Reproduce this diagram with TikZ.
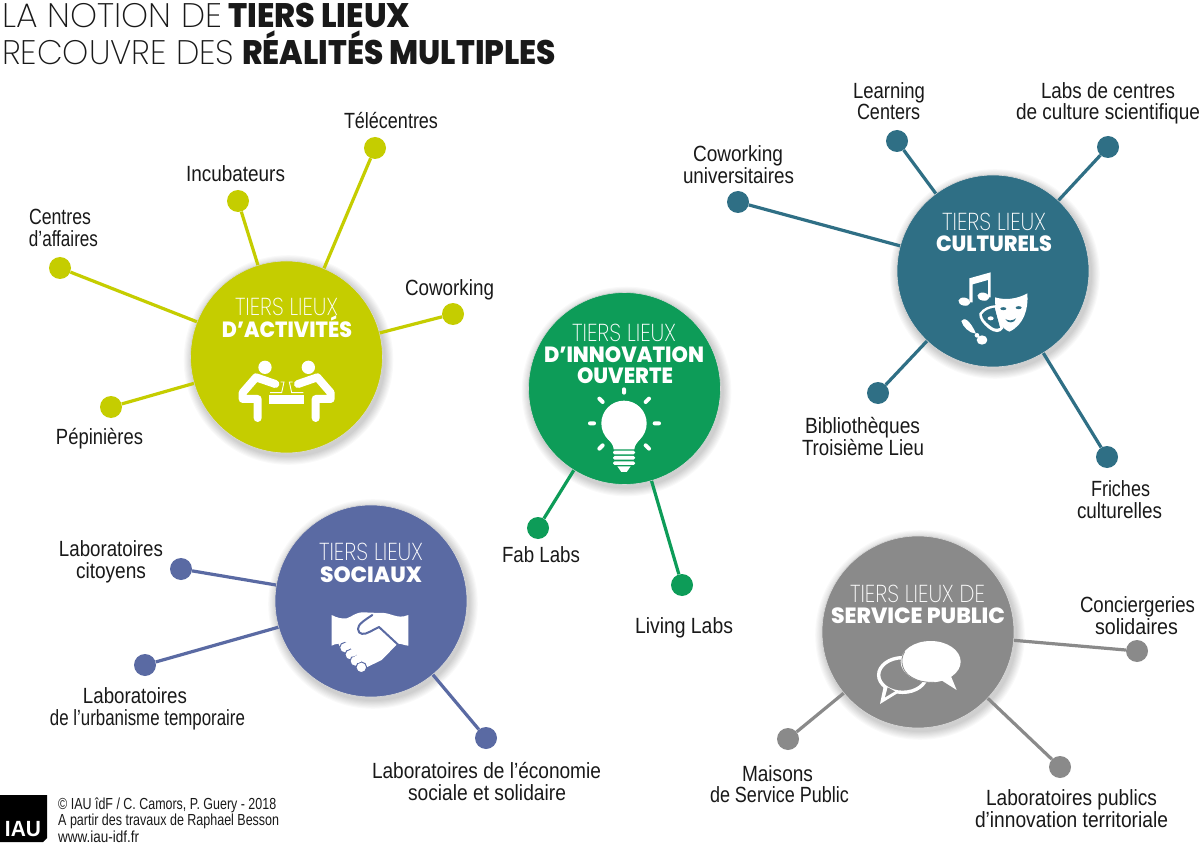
\documentclass[tikz,border=0pt]{standalone}
\usepackage{graphicx}
\usepackage{fontspec}
\setmainfont{Liberation Sans}
\newfontfamily\fthin{Poppins ExtraLight}
\newfontfamily\fbold{Poppins ExtraBold}
\definecolor{cact}{RGB}{197,205,0}
\definecolor{cinn}{RGB}{13,156,88}
\definecolor{ccul}{RGB}{47,111,133}
\definecolor{csoc}{RGB}{90,106,163}
\definecolor{cser}{RGB}{138,138,138}
\definecolor{ink}{RGB}{25,25,25}
\tikzset{
  hub/.style={circle,fill=#1,minimum size=192pt,inner sep=0pt,draw=white!85!black,line width=.6pt},
  pt/.style={circle,fill=#1,minimum size=22pt,inner sep=0pt},
  link/.style={draw=#1,line width=3.2pt},
  lab/.style={anchor=base,inner sep=0pt,text=ink,font=\fontsize{22}{22}\selectfont},
  thintxt/.style={anchor=base,inner sep=0pt,text=white,font=\fthin\fontsize{24.5}{24.5}\selectfont},
  boldtxt/.style={anchor=base,inner sep=0pt,text=white,font=\fbold\fontsize{22}{22}\selectfont},
  ttl/.style={anchor=base west,inner sep=0pt,text=ink,font=\fontsize{34}{34}\selectfont},
  foot/.style={anchor=base west,inner sep=0pt,text=ink,font=\fontsize{16}{16}\selectfont},
}
\newcommand{\fitw}[2]{\resizebox{#1pt}{\height}{#2}}
\newcommand{\halo}[2]{\foreach \k in {1,...,8}{\fill[black,opacity=.022] (#1+2,#2+3) circle (96+\k*1.1);}}
\begin{document}
\begin{tikzpicture}[x=1pt,y=-1pt]
\useasboundingbox (0,0) rectangle (1200,853);
\fill[white] (0,0) rectangle (1200,853);
% title
\node[ttl] (t1a) at (2,28) {\fthin\fitw{220}{LA NOTION DE}};
\node[ttl] (t1b) at (228,28) {\fbold\fitw{182}{TIERS LIEUX}};
\node[ttl] (t2a) at (2,65) {\fthin\fitw{232}{RECOUVRE DES}};
\node[ttl] (t2b) at (242,65) {\fbold\fitw{314}{RÉALITÉS MULTIPLES}};
% halos
\halo{286.5}{357}\halo{624.5}{388.5}\halo{993}{271}\halo{371}{601}\halo{918}{632}
% hubs
\node[hub=cact] (act) at (286.5,357) {};
\node[hub=cinn] (inn) at (624.5,388.5) {};
\node[hub=ccul] (cul) at (993,271) {};
\node[hub=csoc] (soc) at (371,601) {};
\node[hub=cser] (ser) at (918,632) {};
% dots
\node[pt=cact] (a1) at (60,268) {};
\node[pt=cact] (a2) at (238,201) {};
\node[pt=cact] (a3) at (375,148) {};
\node[pt=cact] (a4) at (453,314) {};
\node[pt=cact] (a5) at (111,407) {};
\node[pt=ccul] (c1) at (738,202) {};
\node[pt=ccul] (c2) at (897,141) {};
\node[pt=ccul] (c3) at (1108,147) {};
\node[pt=ccul] (c4) at (878,393) {};
\node[pt=ccul] (c5) at (1107,457) {};
\node[pt=cinn] (i1) at (538,528) {};
\node[pt=cinn] (i2) at (682,585) {};
\node[pt=csoc] (s1) at (181,569) {};
\node[pt=csoc] (s2) at (145,665) {};
\node[pt=csoc] (s3) at (486,738) {};
\node[pt=cser] (v1) at (1137,651) {};
\node[pt=cser] (v2) at (788,739) {};
\node[pt=cser] (v3) at (1060,767) {};
% connectors
\foreach \d in {a1,a2,a3,a4,a5} \draw[link=cact] (\d) -- (act);
\foreach \d in {c1,c2,c3,c4,c5} \draw[link=ccul] (\d) -- (cul);
\foreach \d in {i1,i2} \draw[link=cinn] (\d) -- (inn);
\foreach \d in {s1,s2,s3} \draw[link=csoc] (\d) -- (soc);
\foreach \d in {v1,v2,v3} \draw[link=cser] (\d) -- (ser);
% hub titles
\node[thintxt] (ta1) at (286.5,315) {\fitw{103}{TIERS LIEUX}};
\node[boldtxt] (ta2) at (287,337) {\fitw{130}{D’ACTIVITÉS}};
\node[thintxt] (ti1) at (624,341) {\fitw{104}{TIERS LIEUX}};
\node[boldtxt] (ti2) at (624,362) {\fitw{160}{D’INNOVATION}};
\node[boldtxt] (ti3) at (625,383) {\fitw{96}{OUVERTE}};
\node[thintxt] (tc1) at (994,231) {\fitw{104}{TIERS LIEUX}};
\node[boldtxt] (tc2) at (994,252) {\fitw{116}{CULTURELS}};
\node[thintxt] (ts1) at (371,560) {\fitw{104}{TIERS LIEUX}};
\node[boldtxt] (ts2) at (371,582) {\fitw{102}{SOCIAUX}};
\node[thintxt] (tv1) at (917.5,602) {\fitw{135}{TIERS LIEUX DE}};
\node[boldtxt] (tv2) at (918,623) {\fitw{174}{SERVICE PUBLIC}};
% labels
\node[lab] (l1) at (391,129) {\fitw{94}{Télécentres}};
\node[lab] (l2) at (235.5,182) {\fitw{99}{Incubateurs}};
\node[lab] (l3) at (60,225) {\fitw{62}{Centres}};
\node[lab] (l4) at (63.5,247) {\fitw{69}{d’affaires}};
\node[lab] (l5) at (449.5,295) {\fitw{89}{Coworking}};
\node[lab] (l6) at (99.5,444) {\fitw{87}{Pépinières}};
\node[lab] (l7) at (738,162) {\fitw{90}{Coworking}};
\node[lab] (l8) at (738.5,184) {\fitw{111}{universitaires}};
\node[lab] (l9) at (889,99) {\fitw{72}{Learning}};
\node[lab] (l10) at (888.5,120) {\fitw{63}{Centers}};
\node[lab] (l11) at (1108,99) {\fitw{134}{Labs de centres}};
\node[lab] (l12) at (1108,120) {\fitw{184}{de culture scientifique}};
\node[lab] (l13) at (862.5,433) {\fitw{115}{Bibliothèques}};
\node[lab] (l14) at (863,455) {\fitw{122}{Troisième Lieu}};
\node[lab] (l15) at (1120.5,496) {\fitw{59}{Friches}};
\node[lab] (l16) at (1119.5,518) {\fitw{85}{culturelles}};
\node[lab] (l17) at (541,562) {\fitw{78}{Fab Labs}};
\node[lab] (l18) at (684,633) {\fitw{98}{Living Labs}};
\node[lab] (l19) at (111,556) {\fitw{104}{Laboratoires}};
\node[lab] (l20) at (111,578) {\fitw{70}{citoyens}};
\node[lab] (l21) at (135,703) {\fitw{104}{Laboratoires}};
\node[lab] (l22) at (147.5,725) {\fitw{195}{de l’urbanisme temporaire}};
\node[lab] (l23) at (486.5,778) {\fitw{229}{Laboratoires de l’économie}};
\node[lab] (l24) at (487,800) {\fitw{158}{sociale et solidaire}};
\node[lab] (l25) at (1137.5,612) {\fitw{115}{Conciergeries}};
\node[lab] (l26) at (1136.5,634) {\fitw{83}{solidaires}};
\node[lab] (l27) at (777.5,781) {\fitw{71}{Maisons}};
\node[lab] (l28) at (779.5,802) {\fitw{139}{de Service Public}};
\node[lab] (l29) at (1071.5,805) {\fitw{171}{Laboratoires publics}};
\node[lab] (l30) at (1071.5,827) {\fitw{193}{d’innovation territoriale}};
% footer
\fill[black] (0,795) -- (47,795) -- (47,838) -- (43,842) -- (0,842) -- cycle;
\node[anchor=base,inner sep=0pt,text=white,font=\bfseries\fontsize{22}{22}\selectfont] (iau) at (23,836) {\fitw{36}{IAU}};
\node[foot] (f1) at (58,809) {\fitw{218}{© IAU îdF / C. Camors, P. Guery - 2018}};
\node[foot] (f2) at (58,825.5) {\fitw{221}{A partir des travaux de Raphael Besson}};
\node[foot] (f3) at (58,842) {\fitw{81}{www.iau-idf.fr}};
% icon: people at table
\begin{scope}[shift={(170,260)},scale=1/3,white]
\fill (285,322) circle (20); \fill (415,322) circle (20);
\fill (297,405) rectangle (403,432);
\draw[line width=8pt,line cap=round,line join=round] (316,372) -- (258,352) -- (218,398) -- (218,417) -- (263,417) -- (263,474);
\draw[line width=8pt,line cap=round,line join=round] (384,372) -- (442,352) -- (482,398) -- (482,417) -- (437,417) -- (437,474);
\draw[line width=.9pt] (300,398) -- (335,398) -- (342,366) -- (332,366);
\draw[line width=.9pt] (400,398) -- (365,398) -- (358,366) -- (368,366);
\end{scope}
% icon: bulb
\begin{scope}[shift={(510,290)},scale=1/3,white]
\fill (342,400) circle (68);
\fill (292,445) .. controls (305,460) and (310,465) .. (311,478) -- (373,478) .. controls (374,465) and (380,460) .. (392,445) -- cycle;
\foreach \yy in {482,498,514} \fill[rounded corners=1.5pt] (309,\yy) rectangle (375,\yy+11);
\fill (322,529) -- (362,529) -- (350,546) -- (334,546) -- cycle;
\draw[line width=4pt,line cap=round] (342,298) -- (342,308) (240,400) -- (252,400) (434,400) -- (447,400)
  (268,326) -- (278,336) (417,326) -- (407,336) (268,476) -- (278,466) (417,476) -- (407,466);
\end{scope}
% icon: music, masks, brush
\begin{scope}[shift={(950,265)},scale=1/3,white]
\fill[rotate around={-12:(43,110)}] (43,110) ellipse (18 and 12);
\fill[rotate around={-12:(100,95)}] (100,95) ellipse (18 and 12);
\fill (58,40) -- (122,22) -- (122,97) -- (114,97) -- (114,45) -- (68,58) -- (68,112) -- (58,112) -- cycle;
% small mask
\fill (88,145) .. controls (100,128) and (118,122) .. (140,120) -- (160,190) .. controls (150,205) and (135,205) .. (115,190) .. controls (100,178) and (85,160) .. (88,145) -- cycle;
\fill[ccul] (96,148) .. controls (105,136) and (118,130) .. (134,128) -- (150,188) .. controls (140,195) and (130,190) .. (118,180) .. controls (105,170) and (95,158) .. (96,148) -- cycle;
\fill (122,160) ellipse (9 and 6);
% big mask
\fill (135,97) .. controls (165,106) and (200,103) .. (232,85) .. controls (236,130) and (222,180) .. (178,200) .. controls (150,190) and (135,150) .. (135,97) -- cycle;
\fill[ccul] (160,131) ellipse (9 and 4.5) (206,128) ellipse (9 and 4.5);
\fill[ccul] (166,162) .. controls (176,168) and (186,168) .. (198,160) .. controls (194,176) and (172,176) .. (166,162) -- cycle;
% brush
\fill (34,168) .. controls (42,155) and (60,165) .. (78,206) .. controls (58,205) and (38,185) .. (34,168) -- cycle;
\fill (81,211) circle (7);
\fill (96,225) ellipse (16 and 14);
\end{scope}
% icon: handshake
\begin{scope}[shift={(325,605)},scale=1/3,white]
\fill (20,30) .. controls (35,38) and (50,42) .. (65,40) .. controls (80,36) and (90,22) .. (115,22)
  -- (165,24) .. controls (195,20) and (215,45) .. (250,30) -- (250,122) .. controls (240,122) and (228,115) .. (218,116)
  -- (170,165) -- (125,187) -- (100,175) -- (45,125) -- (40,116) .. controls (32,116) and (25,120) .. (20,122) -- cycle;
\foreach \cx/\cy in {60/128,76/149,91/168,109/187} \filldraw[draw=csoc,line width=1pt,fill=white] (\cx,\cy) circle (16);
\foreach \cx/\cy in {63/126,79/147,94/166} \fill (\cx+5,\cy-4) circle (12);
\draw[csoc,line width=2pt,line cap=round,line join=round] (142,30) .. controls (120,45) and (98,58) .. (99,72) .. controls (100,90) and (118,90) .. (135,80) -- (162,66) -- (218,118);
\end{scope}
% icon: speech bubbles
\begin{scope}[shift={(810,550)},scale=1/3]
\draw[white,line width=3.4pt] (278,375) ellipse (72 and 52);
\fill[white] (222,405) -- (210,462) -- (262,430) -- cycle;
\fill[cser] (233,412) -- (225,442) -- (255,424) -- cycle;
\fill[white] (362,335) ellipse (90 and 62);
\fill[white] (385,385) -- (440,420) -- (420,372) -- cycle;
\draw[cser,line width=.8pt] (284,305) .. controls (268,330) and (275,365) .. (305,382) .. controls (320,392) and (345,398) .. (372,397);
\end{scope}
\end{tikzpicture}
\end{document}
